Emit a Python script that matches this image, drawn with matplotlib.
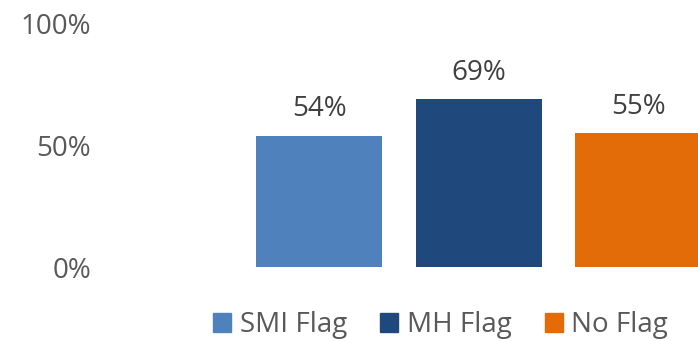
import matplotlib.pyplot as plt
from matplotlib.patches import Patch

plt.rcParams['font.family'] = ['Open Sans', 'DejaVu Sans']

groups = ['SMI Flag', 'MH Flag', 'No Flag']
shares = [0.54, 0.69, 0.55]
colors = ['#4F81BD', '#1F497D', '#E36C09']
yticks = [0, 0.5, 1.0]
ytick_labels = ['0%', '50%', '100%']

axis_color = '#595959'
label_color = '#404040'

fig = plt.figure(figsize=(6.98, 3.41), dpi=100)
ax = fig.add_axes([100 / 698, 74 / 341, 598 / 698, 243 / 341])

xs = range(len(groups))
bars = ax.bar(xs, shares, width=0.79, color=colors)

for b, v in zip(bars, shares):
    ax.annotate(f'{v:.0%}', (b.get_x() + b.get_width() / 2, v),
                xytext=(0, 14), textcoords='offset points',
                ha='center', va='baseline', fontsize=20, color=label_color)

ax.set_xlim(-1.373, 2.376)
ax.set_ylim(0, 1)
ax.set_yticks(yticks)
ax.set_yticklabels(ytick_labels, fontsize=20, color=axis_color)
ax.tick_params(axis='y', length=0, pad=6.5)
ax.set_xticks([])
for s in ax.spines.values():
    s.set_visible(False)

handles = [Patch(color=c, label=g) for g, c in zip(groups, colors)]
fig.legend(handles=handles, loc='center', bbox_to_anchor=(0.631, 0.046),
           ncol=3, frameon=False, fontsize=20, labelcolor=axis_color,
           handlelength=0.65, handleheight=0.65, handletextpad=0.3,
           columnspacing=1.2, borderpad=0)

fig.savefig('out.png', dpi=100)
